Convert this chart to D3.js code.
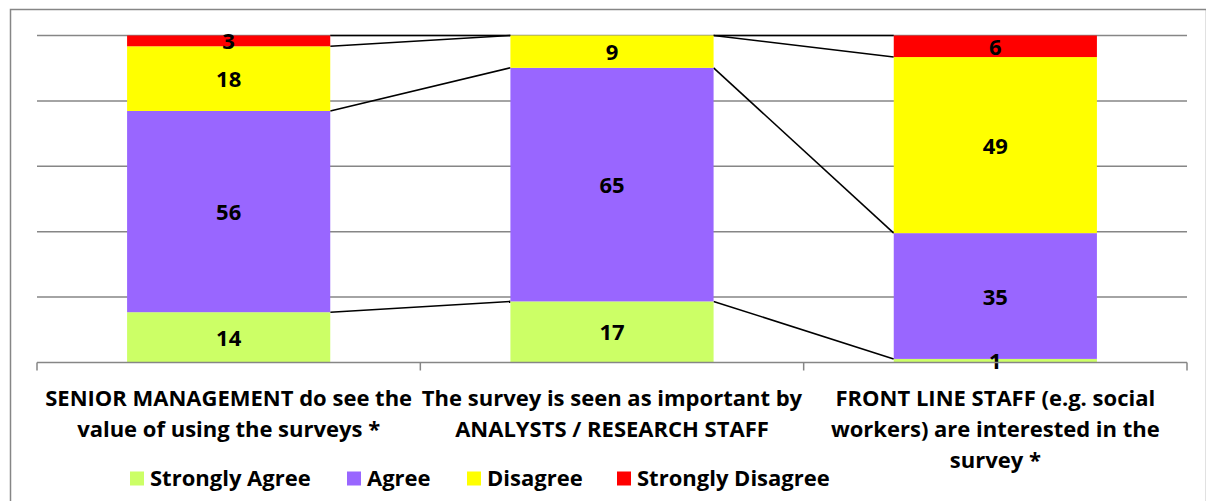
<!DOCTYPE html>
<html><head><meta charset="utf-8">
<script src="https://cdn.jsdelivr.net/npm/d3@7"></script>
<style>body{margin:0;background:#fff}svg{display:block}text{font-family:"Open Sans",Lato,sans-serif;font-weight:bold}</style>
</head><body><svg id="c" width="1206" height="501"></svg>
<script>
const categories = [
  ["SENIOR MANAGEMENT do see the", "value of using the surveys *"],
  ["The survey is seen as important by", "ANALYSTS / RESEARCH STAFF"],
  ["FRONT LINE STAFF (e.g. social", "workers) are interested in the", "survey *"]
];
const seriesNames = ["Strongly Agree", "Agree", "Disagree", "Strongly Disagree"];
const seriesColors = ["#CCFF66", "#9966FF", "#FFFF00", "#FF0000"];
const stronglyAgree = [14, 17, 1];
const agree = [56, 65, 35];
const disagree = [18, 9, 49];
const stronglyDisagree = [3, 0, 6];
const yTicks = [0, 0.2, 0.4, 0.6, 0.8, 1];

const svg = d3.select("#c");
const m = {l: 37, r: 1187, t: 35.5, b: 362.5};
const x = d3.scaleBand().domain(d3.range(categories.length)).range([m.l, m.r]).paddingInner(0.47).paddingOuter(0.235);
const xc = d3.scaleBand().domain(d3.range(categories.length)).range([m.l, m.r]);
const y = d3.scaleLinear().domain([0, 1]).range([m.b, m.t]);
const FS = 22;

svg.append("rect").attr("x", 10.5).attr("y", 9.5).attr("width", 1196).attr("height", 500)
  .attr("fill", "none").attr("stroke", "#868686").attr("stroke-width", 1.5);

svg.append("g").selectAll("line").data(yTicks.slice(1)).join("line")
  .attr("x1", m.l).attr("x2", m.r).attr("y1", d => y(d)).attr("y2", d => y(d))
  .attr("stroke", "#868686").attr("stroke-width", 1.5);

const rows = categories.map((c, i) => ({i, v: [stronglyAgree[i], agree[i], disagree[i], stronglyDisagree[i]]}));
const stacks = rows.map(r => {
  const tot = d3.sum(r.v); let acc = 0;
  return r.v.map((v, k) => { const s = {i: r.i, k, v, y0: acc / tot, y1: (acc + v) / tot}; acc += v; return s; });
});

// series lines
const lg = svg.append("g");
for (let i = 0; i < categories.length - 1; i++) {
  for (let k = 0; k < seriesNames.length; k++) {
    lg.append("line")
      .attr("x1", x(i) + x.bandwidth()).attr("y1", y(stacks[i][k].y1))
      .attr("x2", x(i + 1)).attr("y2", y(stacks[i + 1][k].y1))
      .attr("stroke", "#000").attr("stroke-width", 1.6);
  }
}

const segs = stacks.flat();
svg.append("g").selectAll("rect").data(segs.filter(d => d.v > 0)).join("rect")
  .attr("x", d => x(d.i)).attr("width", x.bandwidth())
  .attr("y", d => y(d.y1)).attr("height", d => y(d.y0) - y(d.y1))
  .attr("fill", d => seriesColors[d.k]);

svg.append("g").selectAll("text").data(segs.filter(d => d.v > 0)).join("text")
  .attr("x", d => x(d.i) + x.bandwidth() / 2)
  .attr("y", d => (y(d.y0) + y(d.y1)) / 2 + 8.5)
  .attr("text-anchor", "middle").attr("font-size", FS).text(d => d.v);

// axis
svg.append("line").attr("x1", m.l).attr("x2", m.r).attr("y1", m.b).attr("y2", m.b)
  .attr("stroke", "#868686").attr("stroke-width", 1.5);
svg.append("g").selectAll("line").data(d3.range(categories.length + 1)).join("line")
  .attr("x1", d => m.l + d * xc.bandwidth()).attr("x2", d => m.l + d * xc.bandwidth())
  .attr("y1", m.b).attr("y2", m.b + 8).attr("stroke", "#868686").attr("stroke-width", 1.5);

const cl = svg.append("g");
categories.forEach((lines, i) => {
  lines.forEach((t, j) => {
    cl.append("text").attr("x", xc(i) + xc.bandwidth() / 2).attr("y", 406 + j * 31)
      .attr("text-anchor", "middle").attr("font-size", FS).text(t);
  });
});

// legend
const legX = [130, 347, 467, 617];
const leg = svg.append("g").selectAll("g").data(seriesNames).join("g")
  .attr("transform", (d, k) => `translate(${legX[k]},471.5)`);
leg.append("rect").attr("width", 14).attr("height", 14).attr("fill", (d, k) => seriesColors[k]);
leg.append("text").attr("x", 20).attr("y", 14).attr("font-size", FS).text(d => d);
</script></body></html>
